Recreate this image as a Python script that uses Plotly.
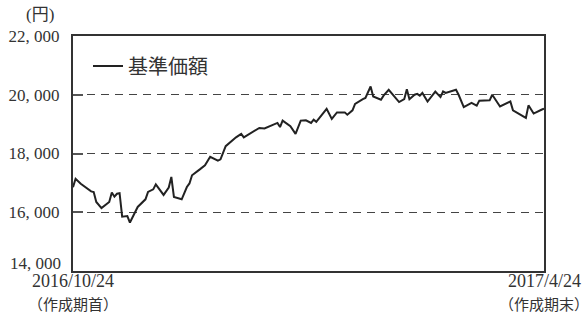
import plotly.graph_objects as go

dates = [
    "2016-10-24", "2016-10-25", "2016-10-27", "2016-10-31", "2016-11-01", "2016-11-02",
    "2016-11-04", "2016-11-07", "2016-11-08", "2016-11-09", "2016-11-10", "2016-11-11",
    "2016-11-12", "2016-11-14", "2016-11-15", "2016-11-18", "2016-11-21", "2016-11-22",
    "2016-11-24", "2016-11-25", "2016-11-28", "2016-11-30", "2016-12-01", "2016-12-02",
    "2016-12-05", "2016-12-07", "2016-12-08", "2016-12-09", "2016-12-12", "2016-12-14",
    "2016-12-16", "2016-12-19", "2016-12-20", "2016-12-22", "2016-12-26", "2016-12-28",
    "2016-12-29", "2017-01-04", "2017-01-06", "2017-01-11", "2017-01-12", "2017-01-13",
    "2017-01-16", "2017-01-18", "2017-01-20", "2017-01-22", "2017-01-24", "2017-01-25",
    "2017-01-26", "2017-01-30", "2017-02-01", "2017-02-03", "2017-02-06", "2017-02-07",
    "2017-02-09", "2017-02-10", "2017-02-13", "2017-02-14", "2017-02-16", "2017-02-17",
    "2017-02-20", "2017-02-21", "2017-02-23", "2017-02-25", "2017-02-27", "2017-03-01",
    "2017-03-02", "2017-03-03", "2017-03-05", "2017-03-06", "2017-03-07", "2017-03-08",
    "2017-03-10", "2017-03-13", "2017-03-15", "2017-03-16", "2017-03-17", "2017-03-21",
    "2017-03-22", "2017-03-24", "2017-03-27", "2017-03-29", "2017-03-30", "2017-04-03",
    "2017-04-04", "2017-04-07", "2017-04-11", "2017-04-12", "2017-04-17", "2017-04-18",
    "2017-04-20", "2017-04-23", "2017-04-24",
]

nav = [
    16850, 17140, 16970, 16710, 16690, 16350,
    16140, 16350, 16670, 16530, 16630, 16650,
    15850, 15870, 15650, 16180, 16440, 16690,
    16780, 16950, 16590, 16840, 17200, 16520,
    16440, 16860, 16980, 17260, 17460, 17600,
    17890, 17760, 17800, 18250, 18550, 18670,
    18550, 18870, 18850, 19040, 18900, 19120,
    18930, 18670, 19120, 19130, 19040, 19150,
    19080, 19520, 19180, 19400, 19400, 19320,
    19470, 19690, 19850, 19890, 20280, 19940,
    19830, 19970, 20170, 19940, 19750, 19850,
    20190, 19850, 20000, 20030, 19970, 20060,
    19770, 20110, 19920, 20110, 20060, 20170,
    20000, 19580, 19720, 19630, 19800, 19810,
    20000, 19600, 19770, 19470, 19210, 19640,
    19360, 19490, 19530,
]

series_name = "基準価額"
y_ticks = [14000, 16000, 18000, 20000, 22000]
y_tick_text = ["14, 000", "16, 000", "18, 000", "20, 000", "22, 000"]
x_ticks = ["2016-10-24", "2017-04-24"]
x_tick_dates = ["2016/10/24", "2017/4/24"]
x_tick_notes = ["（作成期首）", "（作成期末）"]
y_unit = "(円)"

FONT = "Liberation Serif, Noto Sans CJK JP, serif"
TXT = "#333333"
PLOT_H = 235
PLOT_W = 471

fig = go.Figure()
fig.add_trace(go.Scatter(
    x=dates, y=nav, mode="lines", name=series_name,
    line=dict(color="#222222", width=2),
))

fig.update_layout(
    width=588, height=320,
    margin=dict(l=73, r=44, t=36, b=49, autoexpand=False),
    paper_bgcolor="white", plot_bgcolor="white",
    font=dict(family=FONT, size=16, color=TXT),
    showlegend=True,
    legend=dict(x=(88 - 73) / PLOT_W, y=0.955, xanchor="left", yanchor="top",
                bgcolor="rgba(0,0,0,0)", itemwidth=30,
                font=dict(size=20, color=TXT)),
)
fig.add_annotation(text=y_unit, xref="paper", yref="paper",
                   x=(40 - 73) / PLOT_W, y=(PLOT_H + 21) / PLOT_H,
                   xanchor="center", yanchor="middle", showarrow=False,
                   font=dict(size=17, color=TXT))

# lowest y label sits just above the bottom frame line
fig.add_annotation(text=y_tick_text[0], xref="paper", x=-10 / PLOT_W,
                   yref="y", y=y_ticks[0], xanchor="right", yanchor="bottom",
                   yshift=-4, showarrow=False, font=dict(size=17, color=TXT))

# x tick labels (date line + note line), anchored at the tick dates
for xv, d, n in zip(x_ticks, x_tick_dates, x_tick_notes):
    fig.add_annotation(text=d, x=xv, xref="x", y=-10 / PLOT_H, yref="paper",
                       xanchor="center", yanchor="middle", showarrow=False,
                       font=dict(size=18, color=TXT))
    fig.add_annotation(text=n, x=xv, xref="x", y=-34 / PLOT_H, yref="paper",
                       xanchor="center", yanchor="middle", showarrow=False,
                       font=dict(size=15, color=TXT))

fig.update_xaxes(
    type="date", range=["2016-10-24", "2017-04-24"],
    tickvals=x_ticks, showticklabels=False, automargin=False,
    showgrid=False, showline=True, linecolor="#333333", linewidth=2, mirror=True,
    ticks="",
)
fig.update_yaxes(
    range=[14000, 22000], tickvals=y_ticks,
    ticktext=[""] + y_tick_text[1:], automargin=False,
    showgrid=True, gridcolor="#444444", gridwidth=1, griddash="8px,6px",
    showline=True, linecolor="#333333", linewidth=2, mirror=True,
    ticks="inside", ticklen=10, tickwidth=2, tickcolor="#555555",
    zeroline=False, tickfont=dict(size=17, color=TXT), ticklabelstandoff=8,
)

fig.write_html("out.html")
